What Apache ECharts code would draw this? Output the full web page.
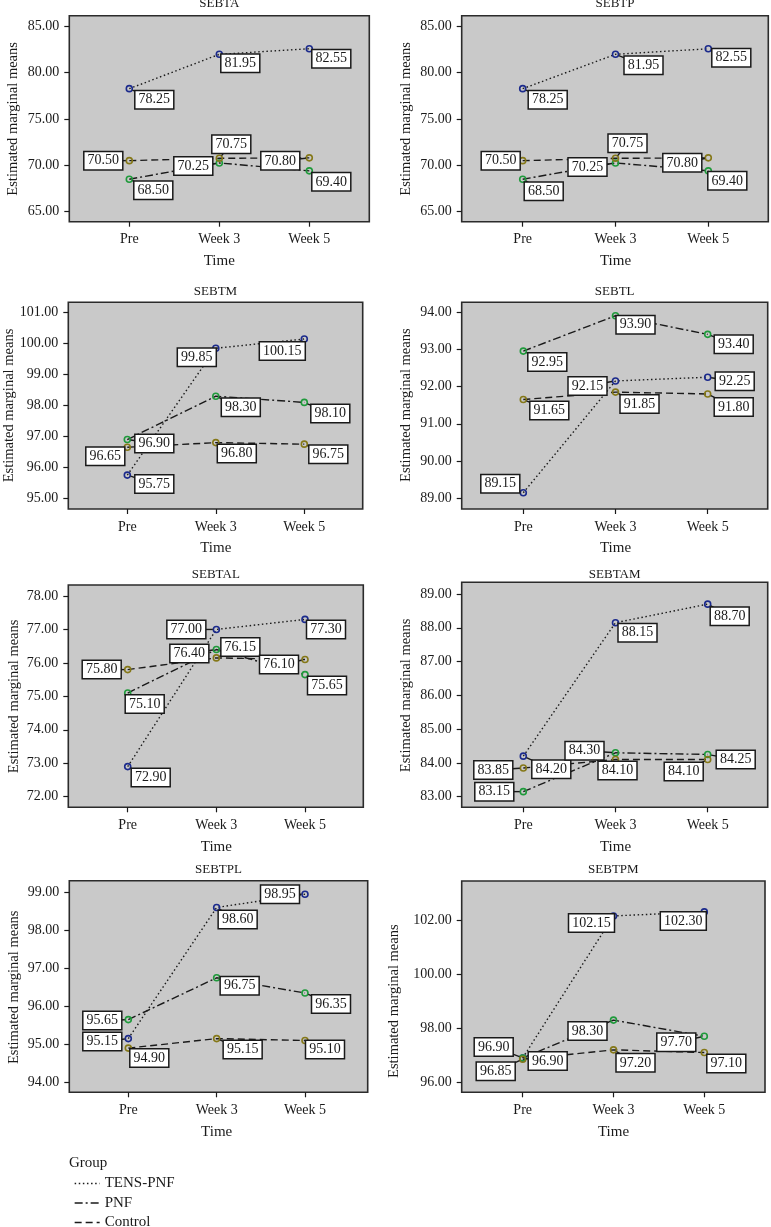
<!DOCTYPE html>
<html>
<head>
<meta charset="utf-8">
<script src="https://cdn.jsdelivr.net/npm/echarts@6/dist/echarts.min.js"></script>
<style>html,body{margin:0;padding:0;background:#fff}#chart{width:771px;height:1227px}</style>
</head>
<body>
<div id="chart"></div>
<script>
// ---------------- DATA ----------------
const categories = ['Pre', 'Week 3', 'Week 5'];
const panelTitles = ['SEBTA', 'SEBTP', 'SEBTM', 'SEBTL', 'SEBTAL', 'SEBTAM', 'SEBTPL', 'SEBTPM'];
const groupNames = ['TENS-PNF', 'PNF', 'Control'];

const tensPnf = [
  [78.25, 81.95, 82.55],
  [78.25, 81.95, 82.55],
  [95.75, 99.85, 100.15],
  [89.15, 92.15, 92.25],
  [72.90, 77.00, 77.30],
  [84.20, 88.15, 88.70],
  [95.15, 98.60, 98.95],
  [96.90, 102.15, 102.30]
];
const pnf = [
  [68.50, 70.25, 69.40],
  [68.50, 70.25, 69.40],
  [96.90, 98.30, 98.10],
  [92.95, 93.90, 93.40],
  [75.10, 76.40, 75.65],
  [83.15, 84.30, 84.25],
  [95.65, 96.75, 96.35],
  [96.90, 98.30, 97.70]
];
const control = [
  [70.50, 70.75, 70.80],
  [70.50, 70.75, 70.80],
  [96.65, 96.80, 96.75],
  [91.65, 91.85, 91.80],
  [75.80, 76.15, 76.10],
  [83.85, 84.10, 84.10],
  [94.90, 95.15, 95.10],
  [96.85, 97.20, 97.10]
];

// y-axis tick ranges
const yTickMin = [65, 65, 95, 89, 72, 83, 94, 96];
const yTickMax = [85, 85, 101, 94, 78, 89, 99, 102];
const yTickStep = [5, 5, 1, 1, 1, 1, 1, 2];

// ---------------- LAYOUT (pixels) ----------------
// plot box: left, top, right, bottom
const boxes = [
  [69.3, 15.7, 369.3, 221.7], [461.7, 15.7, 768.3, 221.7],
  [68.3, 302.3, 362.7, 509], [461.7, 302.3, 767.7, 509],
  [68.3, 585, 363.3, 807.3], [461.7, 582.3, 767.7, 807.3],
  [69.3, 880.7, 367.7, 1092.3], [461.7, 881, 765, 1092.3]
];
// x pixel of first / last category
const catSpan = [
  [129.3, 309.3], [522.7, 708.3], [127.3, 304.3], [523.3, 707.7],
  [127.7, 305], [523.3, 707.7], [128.3, 305], [522.7, 704.3]
];
// y pixel of top tick / bottom tick
const tickSpan = [
  [26, 211.7], [26, 211.7], [312.7, 498.3], [312, 498.3],
  [596, 796.7], [594, 796.7], [892.3, 1082.3], [920, 1082.3]
];
const titleCenterY = [5, 5, 293, 293, 576, 576, 870.7, 870.7];
const yNameCenterX = [12, 405, 8.3, 405, 12.7, 405, 12.7, 393.3];

// label box offsets (dx, dy) from the point: [panel][group][time]
const labelOffsets = [
  [[[25,11],[21,9],[22,10]], [[24,11],[-26,3],[22,11]], [[-26,0],[12,-14],[-29,3]]],
  [[[25,11],[28,11],[23,9]], [[21,12],[-28,4],[19,10]], [[-22,0],[12,-15],[-26,5]]],
  [[[27,9],[-19,9],[-22,12]], [[27,4],[25,11],[26,11]], [[-22,9],[21,11],[24,10]]],
  [[[-23,-9],[-28,5],[27,4]], [[24,11],[20,9],[26,10]], [[26,11],[24,12],[26,13]]],
  [[[23,11],[-30,0],[21,10]], [[17,11],[-27,4],[22,11]], [[-26,0],[24,-11],[-26,5]]],
  [[[28,13],[22,10],[22,12]], [[-29,0],[-31,-2],[28,5]], [[-30,2],[2,11],[-24,12]]],
  [[[-26,3],[21,12],[-25,0]], [[-26,1],[23,8],[26,11]], [[21,10],[26,11],[20,9]]],
  [[[25,3],[-22,7],[-21,9]], [[-29,-11],[-26,11],[-28,6]], [[-27,12],[22,13],[22,11]]]
];

// ---------------- STYLE ----------------
const FONT = '"Liberation Serif", "Times New Roman", serif';
const INK = '#1a1a1a';
const markerColors = ['#1b2a8c', '#1f9a3b', '#857818'];
const dashes = [[1.5, 2.6], [8, 3, 2, 3], [7, 4]];
const seriesValues = [tensPnf, pnf, control];

function renderLabel(params, api) {
  const v = api.value(1);
  const p = api.coord([api.value(0), v]);
  const dx = api.value(2), dy = api.value(3);
  const cx = p[0] + dx, cy = p[1] + dy;
  const len = Math.hypot(dx, dy) || 1;
  const r = 3.5;
  return {
    type: 'group',
    children: [
      { type: 'line', shape: { x1: p[0] + dx / len * r, y1: p[1] + dy / len * r, x2: cx, y2: cy },
        style: { stroke: INK, lineWidth: 1.4 } },
      { type: 'text', x: cx, y: cy,
        style: { text: v.toFixed(2), font: '14px ' + FONT, fill: INK,
          align: 'center', verticalAlign: 'middle',
          backgroundColor: '#ffffff', borderColor: INK, borderWidth: 1.5, padding: [2, 3, 1, 3] } }
    ]
  };
}

const option = {
  animation: false,
  backgroundColor: '#ffffff',
  title: [],
  grid: [],
  xAxis: [],
  yAxis: [],
  series: [],
  graphic: { elements: [] },
  legend: {
    data: groupNames.map((n, s) => ({
      name: n,
      lineStyle: { color: INK, width: 1.3, type: dashes[s] },
      itemStyle: { opacity: 0 }
    })),
    orient: 'vertical', left: 74, top: 1176, width: 200, height: 120, padding: 0,
    itemWidth: 25, itemHeight: 14, itemGap: 4.5,
    selectedMode: false,
    itemStyle: { opacity: 0 },
    textStyle: { fontFamily: FONT, fontSize: 15, color: INK }
  }
};

for (let i = 0; i < 8; i++) {
  const [bl, bt, br, bb] = boxes[i];
  const [x0, x1] = catSpan[i];
  const [yt, yb] = tickSpan[i];

  option.graphic.elements.push({
    type: 'rect', z: -10, silent: true,
    shape: { x: bl, y: bt, width: br - bl, height: bb - bt },
    style: { fill: '#c9c9c9', stroke: '#2b2b2b', lineWidth: 1.6 }
  });

  option.title.push({
    text: panelTitles[i], left: (bl + br) / 2, top: titleCenterY[i] - 7.5,
    textAlign: 'center', padding: 0,
    textStyle: { fontFamily: FONT, fontSize: 13, fontWeight: 'normal', color: INK }
  });

  option.grid.push({
    left: x0, top: yt, width: x1 - x0, height: yb - yt,
    containLabel: false, outerBoundsMode: 'none', show: false
  });

  option.xAxis.push({
    gridIndex: i, type: 'category', data: categories, boundaryGap: false,
    offset: bb - yb,
    axisLine: { show: false },
    axisTick: { show: true, length: 5, lineStyle: { color: INK, width: 1.2 } },
    axisLabel: { margin: 11, fontFamily: FONT, fontSize: 14, color: INK },
    splitLine: { show: false },
    name: 'Time', nameLocation: 'middle', nameGap: 32, nameMoveOverlap: false,
    nameTextStyle: { fontFamily: FONT, fontSize: 15, color: INK }
  });

  option.yAxis.push({
    gridIndex: i, type: 'value',
    min: yTickMin[i], max: yTickMax[i], interval: yTickStep[i],
    offset: x0 - bl,
    axisLine: { show: false },
    axisTick: { show: true, length: 5, lineStyle: { color: INK, width: 1.2 } },
    axisLabel: { margin: 10, fontFamily: FONT, fontSize: 14, color: INK,
      formatter: v => v.toFixed(2) },
    splitLine: { show: false },
    name: 'Estimated marginal means', nameLocation: 'middle',
    nameGap: (bl - yNameCenterX[i]) - 8.5, nameMoveOverlap: false,
    nameTextStyle: { fontFamily: FONT, fontSize: 14.5, color: INK }
  });

  for (let s = 0; s < 3; s++) {
    option.series.push({
      type: 'line', name: groupNames[s], xAxisIndex: i, yAxisIndex: i,
      data: seriesValues[s][i],
      symbol: 'circle', symbolSize: 6, clip: false, z: 3, silent: true,
      lineStyle: { color: INK, width: 1.4, type: dashes[s] },
      itemStyle: { color: 'rgba(0,0,0,0)', borderColor: markerColors[s], borderWidth: 1.6 },
      emphasis: { disabled: true },
      label: { show: false }
    });
  }

  const labelData = [];
  for (let s = 0; s < 3; s++) {
    for (let k = 0; k < categories.length; k++) {
      const off = labelOffsets[i][s][k];
      labelData.push([k, seriesValues[s][i][k], off[0], off[1]]);
    }
  }
  option.series.push({
    type: 'custom', xAxisIndex: i, yAxisIndex: i, z: 5, clip: false, silent: true,
    encode: { x: 0, y: 1 },
    data: labelData,
    renderItem: renderLabel
  });
}

option.title.push({
  text: 'Group', left: 69, top: 1156, padding: 0,
  textStyle: { fontFamily: FONT, fontSize: 15, fontWeight: 'normal', color: INK }
});

const chart = echarts.init(document.getElementById('chart'), null, { renderer: 'canvas' });
chart.setOption(option);
</script>
</body>
</html>
